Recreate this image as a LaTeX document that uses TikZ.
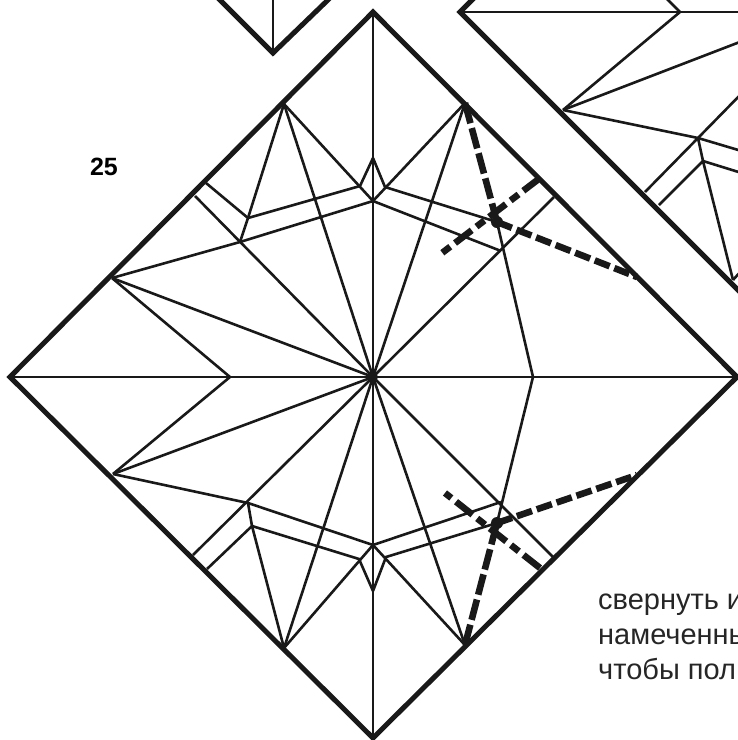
\documentclass[tikz,border=0pt]{standalone}
\usepackage{fontspec}
\setmainfont{Liberation Sans}
\usepackage{tikz}

\begin{document}
\begin{tikzpicture}[
  x=1pt, y=-1pt,
  edge/.style={line width=5pt, line join=miter, draw=black!90},
  crease/.style={line width=2.6pt, draw=black!90},
  fold/.style={line width=6.6pt, draw=black!90, dash pattern=on 16pt off 5pt},
  foldlong/.style={line width=6.6pt, draw=black!90, dash pattern=on 21pt off 5pt},
  foldmix/.style={line width=6.6pt, draw=black!90, dash pattern=on 21pt off 6pt on 10pt off 6pt},
  steplabel/.style={font=\fontsize{25}{25}\selectfont\bfseries, inner sep=0pt},
  caption/.style={font=\fontsize{29}{29}\selectfont, anchor=base west, inner sep=0pt, text=black!85}
]
\useasboundingbox (0,0) rectangle (738,740);

% main square
\coordinate (top) at (373,12);
\coordinate (lft) at (10,377);
\coordinate (rgt) at (737,377);
\coordinate (bot) at (373,738);
\coordinate (mid) at (373,377);
\coordinate (lftin) at (230,377);
\coordinate (rgtin) at (533,377);

% upper left
\coordinate (ula) at (284,104);
\coordinate (ull) at (112,278);
\coordinate (ulq) at (206,183);
\coordinate (ulr) at (195,196);
\coordinate (ulp) at (248,218);
\coordinate (uls) at (240,242);
\coordinate (ult) at (360,186);
\coordinate (upk) at (373,158);
\coordinate (un) at (373,201);

% upper right
\coordinate (ura) at (465,103);
\coordinate (urx) at (497,222);
\coordinate (urs) at (501,251);
\coordinate (urt) at (385,187);
\coordinate (urq) at (554,197);
\coordinate (ure) at (540,178);
\coordinate (urz) at (442,253);
\coordinate (urf) at (637,277);

% lower left
\coordinate (lla) at (284,648);
\coordinate (lll) at (113,474);
\coordinate (llq) at (207,569);
\coordinate (llr) at (193,555);
\coordinate (llp) at (252,526);
\coordinate (lls) at (248,503);
\coordinate (llt) at (359,559);
\coordinate (lpk) at (373,591);
\coordinate (ln) at (373,545);

% lower right
\coordinate (lra) at (465,645);
\coordinate (lrx) at (497,523);
\coordinate (lrs) at (501,502);
\coordinate (lrt) at (386,557);
\coordinate (lrq) at (554,558);
\coordinate (lre) at (540,568);
\coordinate (lrz) at (445,493);
\coordinate (lrf) at (637,475);

% next square, cut off by the page
\coordinate (nl) at (460,12);
\coordinate (nt) at (477,-5);
\coordinate (nb) at (745,297);
\coordinate (na) at (563,110);
\coordinate (nc) at (680,12);
\coordinate (nd) at (698,138);
\coordinate (ne) at (703,161);
\coordinate (nq) at (645,192);
\coordinate (nr) at (659,205);
\coordinate (nf) at (733,280);

% previous square, cut off by the page
\coordinate (pl) at (217,-3);
\coordinate (pr) at (331,-3);
\coordinate (pb) at (273,53);
\coordinate (pc) at (273,-3);

\draw[crease] (top) -- (bot);
\draw[crease] (lft) -- (rgt);

\draw[crease] (ull) -- (mid);
\draw[crease] (ull) -- (lftin) -- (lll);
\draw[crease] (lll) -- (mid);
\draw[crease] (ula) -- (mid);
\draw[crease] (ula) -- (ulp) -- (uls);
\draw[crease] (ula) -- (un);
\draw[crease] (ulq) -- (ulp) -- (ult) -- (upk);
\draw[crease] (ulr) -- (mid);
\draw[crease] (ull) -- (uls) -- (un);

\draw[crease] (ura) -- (mid);
\draw[crease] (ura) -- (un);
\draw[crease] (upk) -- (urt) -- (urx);
\draw[crease] (un) -- (urs);
\draw[crease] (mid) -- (urq);
\draw[crease] (urx) -- (rgtin) -- (lrx);

\draw[crease] (lla) -- (mid);
\draw[crease] (lla) -- (llp) -- (lls);
\draw[crease] (lla) -- (ln);
\draw[crease] (llq) -- (llp) -- (llt) -- (lpk);
\draw[crease] (llr) -- (mid);
\draw[crease] (lll) -- (lls) -- (ln);

\draw[crease] (lra) -- (mid);
\draw[crease] (lra) -- (ln);
\draw[crease] (lpk) -- (lrt) -- (lrx);
\draw[crease] (ln) -- (lrs);
\draw[crease] (mid) -- (lrq);

\fill[black!90] (mid) circle (5pt);

\draw[foldlong] (ura) -- (urx);
\draw[fold] (urx) -- (urf);
\draw[foldmix] (ure) -- (urz);
\draw[foldlong] (lra) -- (lrx);
\draw[fold] (lrx) -- (lrf);
\draw[foldmix] (lre) -- (lrz);
\fill[black!90] (urx) circle (6pt);
\fill[black!90] (lrx) circle (6pt);

\draw[edge] (top) -- (rgt) -- (bot) -- (lft) -- cycle;

\draw[crease] (nl) -- (745,12);
\draw[crease] (nc) -- (660,-8);
\draw[crease] (nc) -- (na);
\draw[crease] (na) -- (745,40);
\draw[crease] (na) -- (nd) -- (745,152);
\draw[crease] (nq) -- (nd) -- (745,90);
\draw[crease] (nd) -- (ne) -- (745,174);
\draw[crease] (nr) -- (ne) -- (nf);
\draw[crease] (nf) -- (742,270);
\draw[edge] (nt) -- (nl) -- (nb);

\draw[crease] (pc) -- (pb);
\draw[edge] (pl) -- (pb) -- (pr);

\node[steplabel] (stepnum) at (104,167) {25};
\node[caption] (capa) at (598,609) {свернуть и};
\node[caption] (capb) at (598,644) {намеченны};
\node[caption] (capc) at (598,679) {чтобы пол};

\end{tikzpicture}
\end{document}
